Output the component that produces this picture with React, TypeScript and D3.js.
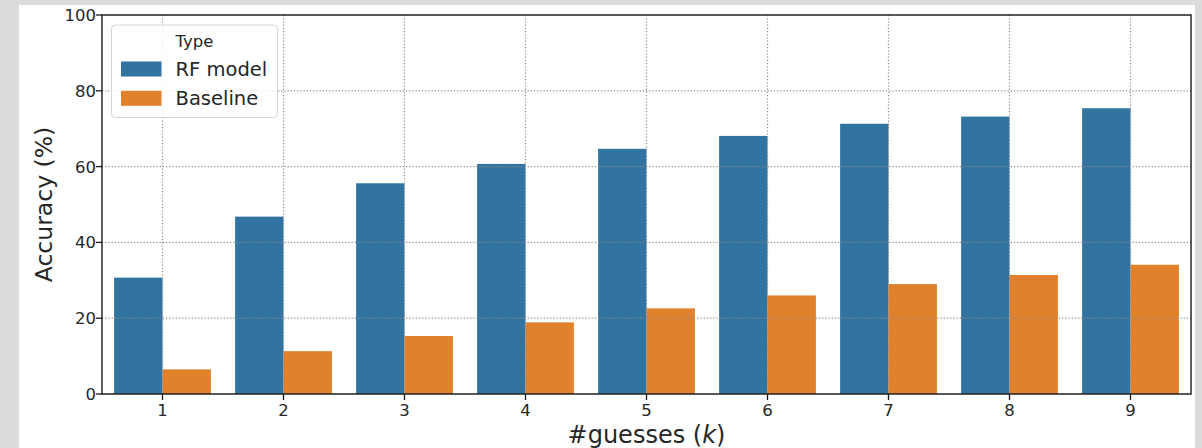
import React from "react";
import * as d3 from "d3";

// #guesses k on the x axis
const categories = ["1", "2", "3", "4", "5", "6", "7", "8", "9"];
// Accuracy (%) per series
const rfModel = [30.7, 46.8, 55.6, 60.7, 64.7, 68.1, 71.3, 73.2, 75.4];
const baseline = [6.5, 11.3, 15.3, 18.9, 22.6, 26.0, 29.0, 31.4, 34.1];
const seriesNames = ["RF model", "Baseline"];
const seriesColors = ["#3274a1", "#e1812c"];
const yTicks = [0, 20, 40, 60, 80, 100];

const W = 1202;
const H = 448;
const plot = { left: 102, right: 1191, top: 15, bottom: 394 };
const FONT = "'DejaVu Sans', sans-serif";

export default function App() {
  const x = d3.scaleBand<string>().domain(categories).range([plot.left, plot.right]).padding(0);
  const y = d3.scaleLinear().domain([0, 100]).range([plot.bottom, plot.top]);
  const bw = x.bandwidth();
  const series = [rfModel, baseline];

  return (
    <div style={{ position: "fixed", left: 0, top: 0 }}>
      <svg width={W} height={H} style={{ display: "block" }}>
        <rect x={0} y={0} width={W} height={H} fill="#dcdcdc" />
        <rect x={19} y={5} width={1176} height={H - 5} fill="#ffffff" />

        {/* bars */}
        {series.map((vals, si) =>
          vals.map((v, i) => (
            <rect
              key={`b${si}-${i}`}
              x={(x(categories[i]) as number) + bw * 0.1 + si * bw * 0.4}
              y={y(v)}
              width={bw * 0.4}
              height={y(0) - y(v)}
              fill={seriesColors[si]}
            />
          ))
        )}

        {/* grid drawn over the bars */}
        <g stroke="#8c8c8c" strokeWidth={1.2} strokeDasharray="1.2,2" fill="none">
          {yTicks.map((t) => (
            <line key={`gy${t}`} x1={plot.left} x2={plot.right} y1={y(t)} y2={y(t)} />
          ))}
          {categories.map((c) => {
            const cx = (x(c) as number) + bw / 2;
            return <line key={`gx${c}`} x1={cx} x2={cx} y1={plot.top} y2={plot.bottom} />;
          })}
        </g>

        {/* frame */}
        <rect
          x={plot.left}
          y={plot.top}
          width={plot.right - plot.left}
          height={plot.bottom - plot.top}
          fill="none"
          stroke="#1a1a1a"
          strokeWidth={1.4}
        />

        {/* y axis */}
        {yTicks.map((t) => (
          <g key={`ty${t}`}>
            <line x1={plot.left - 6} x2={plot.left} y1={y(t)} y2={y(t)} stroke="#1a1a1a" strokeWidth={1.3} />
            <text
              x={plot.left - 6}
              y={y(t) + 6}
              textAnchor="end"
              fontFamily={FONT}
              fontSize={16.5}
              fill="#262626"
            >
              {t}
            </text>
          </g>
        ))}
        <text
          transform={`translate(52,${(plot.top + plot.bottom) / 2}) rotate(-90)`}
          textAnchor="middle"
          fontFamily={FONT}
          fontSize={23.5}
          fill="#262626"
        >
          Accuracy (%)
        </text>

        {/* x axis */}
        {categories.map((c) => {
          const cx = (x(c) as number) + bw / 2;
          return (
            <g key={`tx${c}`}>
              <line x1={cx} x2={cx} y1={plot.bottom} y2={plot.bottom + 6} stroke="#1a1a1a" strokeWidth={1.3} />
              <text x={cx} y={415.5} textAnchor="middle" fontFamily={FONT} fontSize={16.5} fill="#262626">
                {c}
              </text>
            </g>
          );
        })}
        <text
          x={(plot.left + plot.right) / 2}
          y={442.5}
          textAnchor="middle"
          fontFamily={FONT}
          fontSize={24}
          fill="#262626"
        >
          #guesses (<tspan fontStyle="italic">k</tspan>)
        </text>

        {/* legend */}
        <g>
          <rect
            x={111.5}
            y={25}
            width={166}
            height={92.5}
            rx={4}
            fill="#ffffff"
            fillOpacity={0.85}
            stroke="#d6d6d6"
            strokeWidth={1}
          />
          <text x={194.5} y={46.5} textAnchor="middle" fontFamily={FONT} fontSize={16.5} fill="#262626">
            Type
          </text>
          {seriesNames.map((name, i) => (
            <g key={name}>
              <rect x={121} y={61.5 + i * 29.3} width={40.5} height={15} fill={seriesColors[i]} />
              <text x={175.5} y={76 + i * 29.3} fontFamily={FONT} fontSize={19.5} fill="#262626">
                {name}
              </text>
            </g>
          ))}
        </g>
      </svg>
    </div>
  );
}
